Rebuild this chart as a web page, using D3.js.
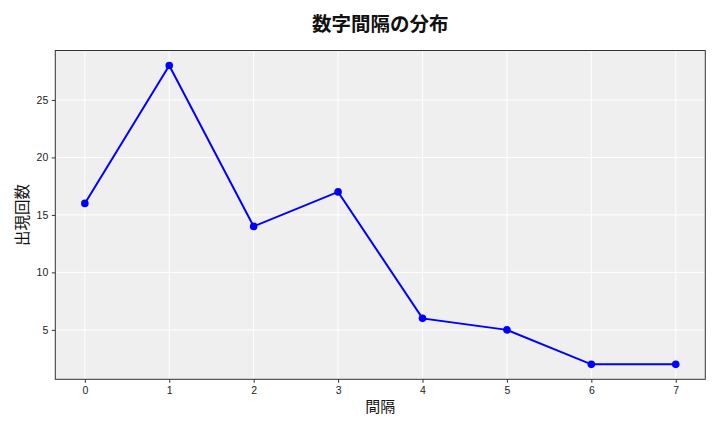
<!DOCTYPE html>
<html>
<head>
<meta charset="UTF-8">
<title>数字間隔の分布</title>
<script src="https://d3js.org/d3.v7.min.js"></script>
<style>
    body { margin: 0; background: #fff; }
    svg { font-family: "Noto Sans CJK JP", "DejaVu Sans", sans-serif; }
    .tick text { font-size: 10.5px; fill: #222; }
    .tick line { stroke: #333; }
    .domain { display: none; }
</style>
</head>
<body>
<div id="chart"></div>
<script>
    // データ
    const intervals = [0, 1, 2, 3, 4, 5, 6, 7];
    const counts = [16, 28, 14, 17, 6, 5, 2, 2];
    const yTicks = [5, 10, 15, 20, 25];

    const W = 720, H = 432;
    const margin = {top: 50.5, right: 14.7, bottom: 52.7, left: 55.3};
    const width = W - margin.left - margin.right;
    const height = H - margin.top - margin.bottom;

    const svg = d3.select("#chart").append("svg")
        .attr("width", W)
        .attr("height", H);

    const g = svg.append("g")
        .attr("transform", `translate(${margin.left},${margin.top})`);

    // 5% マージン
    const xPad = (d3.max(intervals) - d3.min(intervals)) * 0.05;
    const x = d3.scaleLinear()
        .domain([d3.min(intervals) - xPad, d3.max(intervals) + xPad])
        .range([0, width]);

    const yPad = (d3.max(counts) - d3.min(counts)) * 0.05;
    const y = d3.scaleLinear()
        .domain([d3.min(counts) - yPad, d3.max(counts) + yPad])
        .range([height, 0]);

    // 背景
    g.append("rect")
        .attr("width", width)
        .attr("height", height)
        .attr("fill", "#efefef");

    // グリッド
    g.append("g").selectAll("line")
        .data(intervals)
        .enter().append("line")
        .attr("x1", d => x(d)).attr("x2", d => x(d))
        .attr("y1", 0).attr("y2", height)
        .attr("stroke", "#fff").attr("stroke-width", 1);

    g.append("g").selectAll("line")
        .data(yTicks)
        .enter().append("line")
        .attr("x1", 0).attr("x2", width)
        .attr("y1", d => y(d)).attr("y2", d => y(d))
        .attr("stroke", "#fff").attr("stroke-width", 1);

    // 軸
    g.append("g")
        .attr("transform", `translate(0,${height})`)
        .call(d3.axisBottom(x).tickValues(intervals).tickFormat(d3.format("d")).tickSize(3.5).tickPadding(3.5));

    g.append("g")
        .call(d3.axisLeft(y).tickValues(yTicks).tickFormat(d3.format("d")).tickSize(3.5).tickPadding(3.5));

    // 枠線
    g.append("rect")
        .attr("width", width)
        .attr("height", height)
        .attr("fill", "none")
        .attr("stroke", "#333")
        .attr("stroke-width", 1);

    // 折れ線
    const line = d3.line()
        .x((d, i) => x(intervals[i]))
        .y(d => y(d));

    g.append("path")
        .datum(counts)
        .attr("fill", "none")
        .attr("stroke", "#0000ff")
        .attr("stroke-width", 2)
        .attr("d", line);

    g.selectAll(".dot")
        .data(counts)
        .enter().append("circle")
        .attr("class", "dot")
        .attr("cx", (d, i) => x(intervals[i]))
        .attr("cy", d => y(d))
        .attr("r", 3.8)
        .attr("fill", "#0000ff");

    // タイトル・ラベル
    svg.append("text")
        .attr("x", margin.left + width / 2)
        .attr("y", 31)
        .attr("text-anchor", "middle")
        .attr("font-size", "19.5px")
        .attr("font-weight", "bold")
        .attr("fill", "#111")
        .text("数字間隔の分布");

    svg.append("text")
        .attr("x", margin.left + width / 2)
        .attr("y", 412)
        .attr("text-anchor", "middle")
        .attr("font-size", "15px")
        .attr("fill", "#111")
        .text("間隔");

    svg.append("text")
        .attr("transform", `translate(28,${margin.top + height / 2}) rotate(-90)`)
        .attr("text-anchor", "middle")
        .attr("font-size", "15.5px")
        .attr("fill", "#111")
        .text("出現回数");
</script>
</body>
</html>
